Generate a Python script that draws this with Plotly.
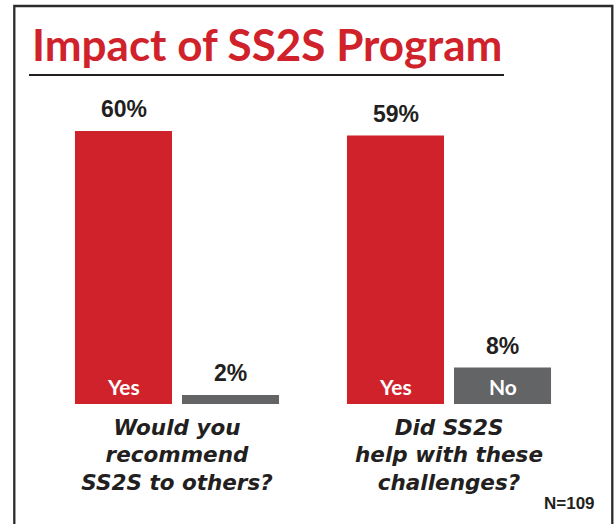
import plotly.graph_objects as go

# ---- data ----
questions = ["Would you<br>recommend<br>SS2S to others?",
             "Did SS2S<br>help with these<br>challenges?"]
yes_values = [60, 59]
no_values = [2, 8]
yes_labels = ["Yes", "Yes"]
no_labels = ["", "No"]
title_text = "Impact of SS2S Program"
note_text = "N=109"

# ---- styles ----
RED = "#d0222b"
GRAY = "#636466"
DARK = "#231f20"
W, H = 616, 524
L, R, T, B = 41, 31, 100, 120
PW = W - L - R
PH = H - T - B
PX_PER_UNIT = 273 / 60.0
YMAX = PH / PX_PER_UNIT
OFF = 53.5  # half distance between bar centres in a group


def px(xp):
    return (xp - L) / PW


def py(yp):
    return (H - B - yp) / PH


fig = go.Figure()
fig.add_trace(go.Bar(x=questions, y=yes_values, marker=dict(color=RED, line=dict(width=0)),
                     name="Yes", hoverinfo="skip"))
fig.add_trace(go.Bar(x=questions, y=no_values, marker=dict(color=GRAY, line=dict(width=0)),
                     name="No", hoverinfo="skip"))

PCT_FONT = dict(family="Liberation Sans, Arial", size=23, color=DARK)
IN_FONT = dict(family="Lato", size=21, color="white")

ann = []
for vals, labs, sh in ((yes_values, yes_labels, -OFF), (no_values, no_labels, OFF)):
    for q, v, lab in zip(questions, vals, labs):
        ann.append(dict(x=q, y=v, xref="x", yref="y", text=f"<b>{v}%</b>", showarrow=False,
                        xshift=sh, yshift=22, yanchor="middle", font=PCT_FONT))
        if lab:
            ann.append(dict(x=q, y=0, xref="x", yref="y", text=f"<b>{lab}</b>", showarrow=False,
                            xshift=sh, yshift=18, yanchor="middle", font=IN_FONT))

ann.append(dict(x=px(266.5), y=py(44), xref="paper", yref="paper", text=title_text,
                showarrow=False, xanchor="center", yanchor="middle",
                font=dict(family="Lato", size=44, color=RED, weight="bold")))
ann.append(dict(x=px(597), y=py(503), xref="paper", yref="paper", text=f"<b>{note_text}</b>",
                showarrow=False, xanchor="right", yanchor="middle",
                font=dict(family="Liberation Sans, Arial", size=17, color=DARK)))

shapes = [
    dict(type="rect", xref="paper", yref="paper", x0=px(14.3), x1=px(612.3), y0=py(6), y1=py(560),
         line=dict(color="#2b2b2b", width=2.3), fillcolor="rgba(0,0,0,0)", layer="above"),
    dict(type="line", xref="paper", yref="paper", x0=px(29), x1=px(504), y0=py(75), y1=py(75),
         line=dict(color=DARK, width=2)),
]

fig.update_layout(
    width=W, height=H,
    margin=dict(l=L, r=R, t=T, b=B, autoexpand=False),
    barmode="group", bargap=0.213, bargroupgap=0.0935,
    paper_bgcolor="white", plot_bgcolor="white",
    showlegend=False,
    annotations=ann, shapes=shapes,
    xaxis=dict(type="category", showgrid=False, showline=False, zeroline=False, ticks="",
               tickfont=dict(family="DejaVu Sans", size=21.5, color=DARK, weight="bold", style="italic"),
               ticklabelstandoff=8, fixedrange=True),
    yaxis=dict(range=[0, YMAX], visible=False, fixedrange=True),
)

fig.write_html("out.html", config={"displayModeBar": False},
               post_script="document.body.style.margin='0px';")
